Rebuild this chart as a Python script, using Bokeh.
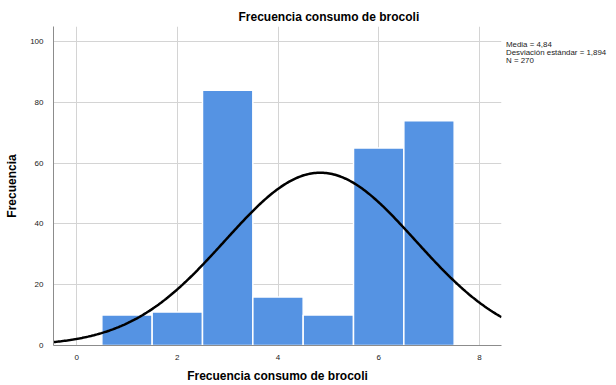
import numpy as np
from bokeh.plotting import figure
from bokeh.models import ColumnDataSource, Range1d, FixedTicker, Div
from bokeh.layouts import row
from bokeh.embed import file_html
from bokeh.resources import INLINE

# Data
bin_centers = [1, 2, 3, 4, 5, 6, 7]
counts = [10, 11, 84, 16, 10, 65, 74]
mean_val = 4.84
std_val = 1.894
n_val = 270
x_ticks = [0, 2, 4, 6, 8]
y_ticks = [0, 20, 40, 60, 80, 100]
title_text = "Frecuencia consumo de brocoli"
x_label = "Frecuencia consumo de brocoli"
y_label = "Frecuencia"
stats_lines = ["Media = 4,84", "Desviación estándar = 1,894", "N = 270"]

FONT = "Liberation Sans"
X0, X1 = -0.46, 8.44
Y0, Y1 = 0, 105

p = figure(width=503, height=385, output_backend="svg", toolbar_location=None,
           x_range=Range1d(X0, X1), y_range=Range1d(Y0, Y1),
           min_border_left=53, min_border_right=2, min_border_top=26, min_border_bottom=40)

p.outline_line_color = None
p.background_fill_color = "white"

p.title.text = title_text
p.title.align = "left"
p.title.offset = 185
p.title.standoff = 6
p.title.text_font = FONT
p.title.text_font_size = "12px"
p.title.text_font_style = "bold"
p.title.text_color = "black"

src = ColumnDataSource(dict(x=bin_centers, top=counts))
p.vbar(x="x", top="top", bottom=0, width=1.0, source=src,
       fill_color="#5593E3", line_color="#FFFFFF", line_width=1.5)

# fitted normal curve scaled to counts (bin width 1)
xs = np.linspace(X0, X1, 300)
ys = n_val * 1.0 / (std_val * np.sqrt(2 * np.pi)) * np.exp(-0.5 * ((xs - mean_val) / std_val) ** 2)
p.line(xs, ys, line_color="black", line_width=2.5)

for ax in (p.xaxis[0], p.yaxis[0]):
    ax.axis_line_color = "#8C8C8C"
    ax.major_tick_line_color = None
    ax.minor_tick_line_color = None
    ax.major_label_text_font = FONT
    ax.major_label_text_font_size = "8px"
    ax.major_label_text_color = "#222222"
    ax.axis_label_text_font = FONT
    ax.axis_label_text_font_size = "12px"
    ax.axis_label_text_font_style = "bold"
    ax.axis_label_text_color = "black"

p.xaxis.ticker = FixedTicker(ticks=x_ticks)
p.yaxis.ticker = FixedTicker(ticks=y_ticks)
p.xaxis.major_label_standoff = 3
p.yaxis.major_label_standoff = 4
p.xaxis.axis_label = x_label
p.yaxis.axis_label = y_label
p.xaxis.axis_label_standoff = 6
p.yaxis.axis_label_standoff = 8

p.xgrid.grid_line_color = "#D4D4D4"
p.ygrid.grid_line_color = "#D4D4D4"
p.xgrid.ticker = FixedTicker(ticks=x_ticks)
p.ygrid.ticker = FixedTicker(ticks=y_ticks)

stats_html = (
    "<div style='padding-top:41px; padding-left:3px; font-family:\"Liberation Sans\";"
    " font-size:7.9px; line-height:8.2px; color:#222222; white-space:nowrap;'>"
    + "<br>".join(stats_lines) + "</div>"
)
stats = Div(text=stats_html, width=113, height=385, margin=0)

layout = row(p, stats, spacing=0)

open("out.html", "w").write(file_html(layout, INLINE))
